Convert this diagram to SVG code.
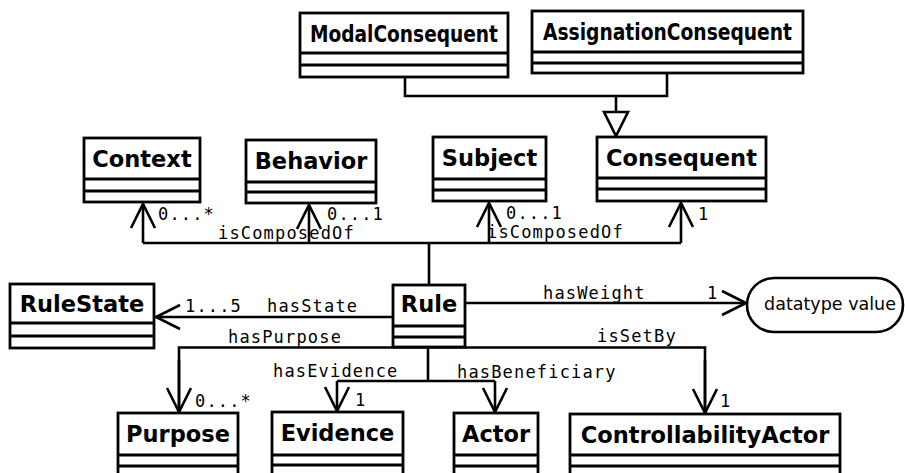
<svg xmlns="http://www.w3.org/2000/svg" width="905" height="473" viewBox="0 0 905 473">
<style>
.box rect{fill:#fff;stroke:#000;stroke-width:2.8}
.box line{stroke:#000;stroke-width:2.8}
.name{font-family:"DejaVu Sans",Verdana,sans-serif;font-weight:bold;font-size:22.5px;text-anchor:middle;fill:#000}
.cond{font-family:"DejaVu Sans Condensed","DejaVu Sans",sans-serif;font-stretch:condensed}
.lbl{font-family:"DejaVu Sans Mono","Liberation Mono",monospace;font-size:17px;letter-spacing:1.17px;fill:#000}
.c{fill:none;stroke:#000;stroke-width:2.6}
.dt{font-family:"DejaVu Sans",Verdana,sans-serif;font-size:17.5px;text-anchor:middle;fill:#000}
</style>
<defs>
<marker id="open" viewBox="-27 -15 30 30" refX="0" refY="0" markerWidth="30" markerHeight="30" markerUnits="userSpaceOnUse" orient="auto">
<path d="M-24,-12 L0,0 L-24,12" fill="none" stroke="#000" stroke-width="2.6"/>
</marker>
</defs>
<rect width="905" height="473" fill="#fff"/>

<g id="connectors">
<polyline class="c" points="405,77 405,96 667,96 667,73"/>
<line class="c" x1="616" y1="96" x2="616" y2="112"/>
<polygon points="604,112 628,112 616,136" fill="#fff" stroke="#000" stroke-width="2.6"/>
<line class="c" x1="143" y1="243" x2="681" y2="243"/>
<line class="c" x1="429" y1="243" x2="429" y2="285"/>
<line class="c" x1="143" y1="243" x2="143" y2="204" marker-end="url(#open)"/>
<line class="c" x1="309" y1="243" x2="309" y2="205" marker-end="url(#open)"/>
<line class="c" x1="489" y1="243" x2="489" y2="203" marker-end="url(#open)"/>
<line class="c" x1="681" y1="243" x2="681" y2="203" marker-end="url(#open)"/>
<line class="c" x1="393" y1="317" x2="156" y2="317" marker-end="url(#open)"/>
<line class="c" x1="465" y1="303" x2="746" y2="303" marker-end="url(#open)"/>
<polyline class="c" points="179,413 179,347.5 705,347.5 705,414"/>
<line class="c" x1="179" y1="360" x2="179" y2="412" marker-end="url(#open)"/>
<line class="c" x1="705" y1="360" x2="705" y2="413" marker-end="url(#open)"/>
<line class="c" x1="428" y1="347" x2="428" y2="381"/>
<line class="c" x1="337" y1="381" x2="495" y2="381"/>
<line class="c" x1="337" y1="381" x2="337" y2="411" marker-end="url(#open)"/>
<line class="c" x1="495" y1="381" x2="495" y2="412" marker-end="url(#open)"/>
<text class="lbl" x="158" y="220">0...*</text>
<text class="lbl" x="218" y="239">isComposedOf</text>
<text class="lbl" x="327" y="220">0...1</text>
<text class="lbl" x="506" y="219">0...1</text>
<text class="lbl" x="487" y="238">isComposedOf</text>
<text class="lbl" x="698" y="220">1</text>
<text class="lbl" x="185" y="312">1...5</text>
<text class="lbl" x="267" y="312">hasState</text>
<text class="lbl" x="228" y="343">hasPurpose</text>
<text class="lbl" x="543" y="299">hasWeight</text>
<text class="lbl" x="707" y="299">1</text>
<text class="lbl" x="597" y="342">isSetBy</text>
<text class="lbl" x="273" y="377">hasEvidence</text>
<text class="lbl" x="457" y="378">hasBeneficiary</text>
<text class="lbl" x="195" y="407">0...*</text>
<text class="lbl" x="355" y="406">1</text>
<text class="lbl" x="720" y="407">1</text>
</g>

<g id="ModalConsequent" class="box">
<rect x="300" y="13" width="208" height="64"/>
<line x1="300" y1="53" x2="508" y2="53"/><line x1="300" y1="65" x2="508" y2="65"/>
<text class="name cond" x="404" y="42" textLength="188" lengthAdjust="spacingAndGlyphs">ModalConsequent</text>
</g>
<g id="AssignationConsequent" class="box">
<rect x="532" y="11" width="271" height="62"/>
<line x1="532" y1="52" x2="803" y2="52"/><line x1="532" y1="63" x2="803" y2="63"/>
<text class="name cond" x="667.5" y="40" textLength="249" lengthAdjust="spacingAndGlyphs">AssignationConsequent</text>
</g>
<g id="Context" class="box">
<rect x="84" y="138" width="116" height="64"/>
<line x1="84" y1="179" x2="200" y2="179"/><line x1="84" y1="191" x2="200" y2="191"/>
<text class="name" x="142" y="167">Context</text>
</g>
<g id="Behavior" class="box">
<rect x="246" y="140" width="130" height="63"/>
<line x1="246" y1="182" x2="376" y2="182"/><line x1="246" y1="192" x2="376" y2="192"/>
<text class="name" x="311" y="169">Behavior</text>
</g>
<g id="Subject" class="box">
<rect x="433" y="137" width="113" height="64"/>
<line x1="433" y1="179" x2="546" y2="179"/><line x1="433" y1="190" x2="546" y2="190"/>
<text class="name" x="489.5" y="166">Subject</text>
</g>
<g id="Consequent" class="box">
<rect x="597" y="137" width="169" height="64"/>
<line x1="597" y1="178" x2="766" y2="178"/><line x1="597" y1="189" x2="766" y2="189"/>
<text class="name" x="681.5" y="166">Consequent</text>
</g>
<g id="RuleState" class="box">
<rect x="10" y="284" width="144" height="64"/>
<line x1="10" y1="323" x2="154" y2="323"/><line x1="10" y1="336" x2="154" y2="336"/>
<text class="name" x="82" y="312">RuleState</text>
</g>
<g id="Rule" class="box">
<rect x="393" y="285" width="72" height="62"/>
<line x1="393" y1="326" x2="465" y2="326"/><line x1="393" y1="337" x2="465" y2="337"/>
<text class="name" x="429" y="312">Rule</text>
</g>
<g id="datatypeValue">
<rect x="747" y="278" width="156" height="54" rx="27" ry="27" fill="#fff" stroke="#000" stroke-width="2.6"/>
<text class="dt" x="830" y="310">datatype value</text>
</g>
<g id="Purpose" class="box">
<rect x="118" y="413" width="120" height="66"/>
<line x1="118" y1="455" x2="238" y2="455"/><line x1="118" y1="466" x2="238" y2="466"/>
<text class="name" x="178" y="442">Purpose</text>
</g>
<g id="Evidence" class="box">
<rect x="272" y="412" width="131" height="67"/>
<line x1="272" y1="455" x2="403" y2="455"/><line x1="272" y1="465" x2="403" y2="465"/>
<text class="name" x="337.5" y="441">Evidence</text>
</g>
<g id="Actor" class="box">
<rect x="454" y="413" width="84" height="66"/>
<line x1="454" y1="455" x2="538" y2="455"/><line x1="454" y1="466" x2="538" y2="466"/>
<text class="name" x="496" y="442">Actor</text>
</g>
<g id="ControllabilityActor" class="box">
<rect x="570" y="414" width="270" height="65"/>
<line x1="570" y1="455" x2="840" y2="455"/><line x1="570" y1="466" x2="840" y2="466"/>
<text class="name" x="705" y="443">ControllabilityActor</text>
</g>
</svg>
